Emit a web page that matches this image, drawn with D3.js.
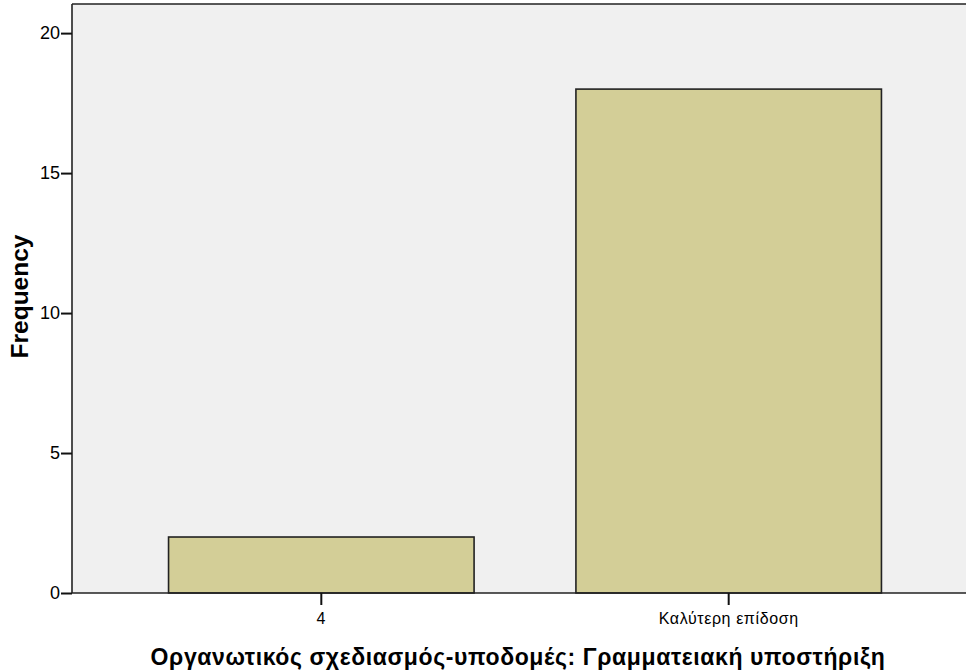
<!DOCTYPE html>
<html>
<head>
<meta charset="utf-8">
<script src="https://cdn.jsdelivr.net/npm/d3@7"></script>
<style>
  html, body { margin: 0; padding: 0; background: #ffffff; }
  svg { display: block; font-family: "Liberation Sans", Arial, sans-serif; }
</style>
</head>
<body>
<svg id="chart" width="966" height="672"></svg>
<script>
// Response categories and their frequencies
const categories = ["4", "Καλύτερη επίδοση"];
const frequencies = [2, 18];
const yTicks = [0, 5, 10, 15, 20];
const xTitle = "Οργανωτικός σχεδιασμός-υποδομές: Γραμματειακή υποστήριξη";
const yTitle = "Frequency";

const svg = d3.select("#chart");
const plotLeft = 72, plotRight = 978, plotTop = 4, plotBottom = 593;

const x = d3.scaleBand()
  .domain(categories)
  .range([plotLeft, plotRight])
  .paddingInner(0.25)
  .paddingOuter(0.237);

const y = d3.scaleLinear()
  .domain([0, 21.04])
  .range([plotBottom, plotTop]);

// plot background
svg.append("rect")
  .attr("x", plotLeft).attr("y", plotTop)
  .attr("width", plotRight - plotLeft).attr("height", plotBottom - plotTop)
  .attr("fill", "#f0f0f0");

// bars
svg.append("g").selectAll("rect")
  .data(categories)
  .join("rect")
  .attr("x", d => x(d))
  .attr("y", (d, i) => y(frequencies[i]))
  .attr("width", x.bandwidth())
  .attr("height", (d, i) => plotBottom - y(frequencies[i]))
  .attr("fill", "#d3ce97")
  .attr("stroke", "#222")
  .attr("stroke-width", 1.6);

// top border of the plot frame
svg.append("line")
  .attr("x1", plotLeft).attr("x2", plotRight).attr("y1", plotTop).attr("y2", plotTop)
  .attr("stroke", "#222").attr("stroke-width", 1.6);

// y axis
const yAxis = svg.append("g")
  .attr("transform", `translate(${plotLeft},0)`)
  .call(d3.axisLeft(y).tickValues(yTicks).tickSize(11).tickPadding(1).tickFormat(d3.format("d")));
yAxis.select(".domain").attr("stroke", "#222").attr("stroke-width", 1.6)
  .attr("d", `M0,${plotTop}V${plotBottom}`);
yAxis.selectAll(".tick line").attr("stroke", "#111").attr("stroke-width", 2);
yAxis.selectAll(".tick text")
  .attr("fill", "#000")
  .attr("font-size", 18)
  .attr("font-family", "Liberation Sans, Arial, sans-serif");

// x axis
const xAxis = svg.append("g")
  .attr("transform", `translate(0,${plotBottom})`)
  .call(d3.axisBottom(x).tickSize(12).tickPadding(8));
xAxis.select(".domain").attr("stroke", "#222").attr("stroke-width", 1.6)
  .attr("d", `M${plotLeft},0H${plotRight}`);
xAxis.selectAll(".tick line").attr("stroke", "#111").attr("stroke-width", 2);
xAxis.selectAll(".tick text")
  .attr("fill", "#000")
  .attr("font-size", 16)
  .attr("letter-spacing", 0.6)
  .attr("font-family", "Liberation Sans, Arial, sans-serif");

// axis titles
svg.append("text")
  .attr("x", 518).attr("y", 665)
  .attr("text-anchor", "middle")
  .attr("font-size", 23).attr("font-weight", "bold")
  .attr("letter-spacing", 0.6)
  .text(xTitle);

svg.append("text")
  .attr("transform", "translate(28,296.5) rotate(-90)")
  .attr("text-anchor", "middle")
  .attr("font-size", 24.5).attr("font-weight", "bold")
  .text(yTitle);
</script>
</body>
</html>
